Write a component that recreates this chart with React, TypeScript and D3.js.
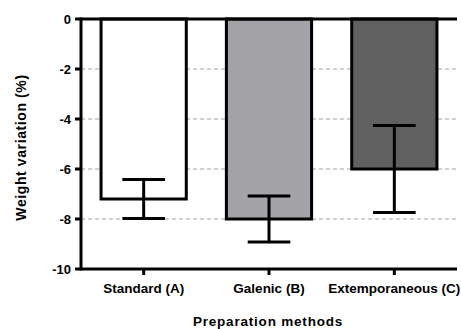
import React from "react";
import * as d3 from "d3";

const categories = ["Standard (A)", "Galenic (B)", "Extemporaneous (C)"];
const means = [-7.2, -8.0, -6.0];
const errors = [0.78, 0.92, 1.74];
const fills = ["#ffffff", "#a3a2a6", "#606060"];
const yTicks = [0, -2, -4, -6, -8, -10];
const gridTicks = [-2, -4, -6, -8];

export default function App() {
  const W = 461, H = 329;
  const left = 81, right = 457, top = 19, bottom = 269;
  const x = d3.scaleBand<string>().domain(categories).range([left, right]).paddingInner(0.32).paddingOuter(0.16);
  const y = d3.scaleLinear().domain([0, -10]).range([top, bottom]);
  const font = "'Liberation Sans', Arial, sans-serif";
  const bw = x.bandwidth();
  return (
    <svg width={W} height={H} style={{ position: "absolute", left: 0, top: 0, background: "#fff" }}>
      {gridTicks.map((t) => (
        <line key={t} x1={left} x2={right} y1={y(t)} y2={y(t)} stroke="#a0a0a0" strokeWidth={1} strokeDasharray="4,3" />
      ))}
      {categories.map((c, i) => {
        const x0 = x(c)!;
        const cx = x0 + bw / 2;
        const capW = bw / 2;
        return (
          <g key={c}>
            <rect x={x0} y={y(0)} width={bw} height={y(means[i]) - y(0)} fill={fills[i]} stroke="#000" strokeWidth={3} />
            <line x1={cx} x2={cx} y1={y(means[i] + errors[i])} y2={y(means[i] - errors[i])} stroke="#000" strokeWidth={3} />
            <line x1={cx - capW / 2} x2={cx + capW / 2} y1={y(means[i] + errors[i])} y2={y(means[i] + errors[i])} stroke="#000" strokeWidth={3} />
            <line x1={cx - capW / 2} x2={cx + capW / 2} y1={y(means[i] - errors[i])} y2={y(means[i] - errors[i])} stroke="#000" strokeWidth={3} />
          </g>
        );
      })}
      <line x1={left} x2={right} y1={y(0)} y2={y(0)} stroke="#000" strokeWidth={3} />
      <line x1={left} x2={left} y1={top - 1.5} y2={bottom + 1.5} stroke="#000" strokeWidth={3} />
      {yTicks.map((t) => (
        <g key={t}>
          <line x1={left - 6} x2={left} y1={y(t)} y2={y(t)} stroke="#000" strokeWidth={3} />
          <text x={left - 10} y={y(t)} dy="0.36em" textAnchor="end" fontFamily={font} fontWeight="bold" fontSize={13}>
            {t}
          </text>
        </g>
      ))}
      <line x1={left} x2={right} y1={bottom} y2={bottom} stroke="#000" strokeWidth={3} />
      {categories.map((c) => (
        <g key={c}>
          <line x1={x(c)! + bw / 2} x2={x(c)! + bw / 2} y1={bottom} y2={bottom + 6} stroke="#000" strokeWidth={3} />
          <text x={x(c)! + bw / 2} y={293} textAnchor="middle" fontFamily={font} fontWeight="bold" fontSize={13.5}>
            {c}
          </text>
        </g>
      ))}
      <text x={268} y={326} textAnchor="middle" fontFamily={font} fontWeight="bold" fontSize={13.5} letterSpacing={0.8}>
        Preparation methods
      </text>
      <text transform={`translate(26,147.5) rotate(-90)`} textAnchor="middle" fontFamily={font} fontWeight="bold" fontSize={14} letterSpacing={0.6}>
        Weight variation (%)
      </text>
    </svg>
  );
}
